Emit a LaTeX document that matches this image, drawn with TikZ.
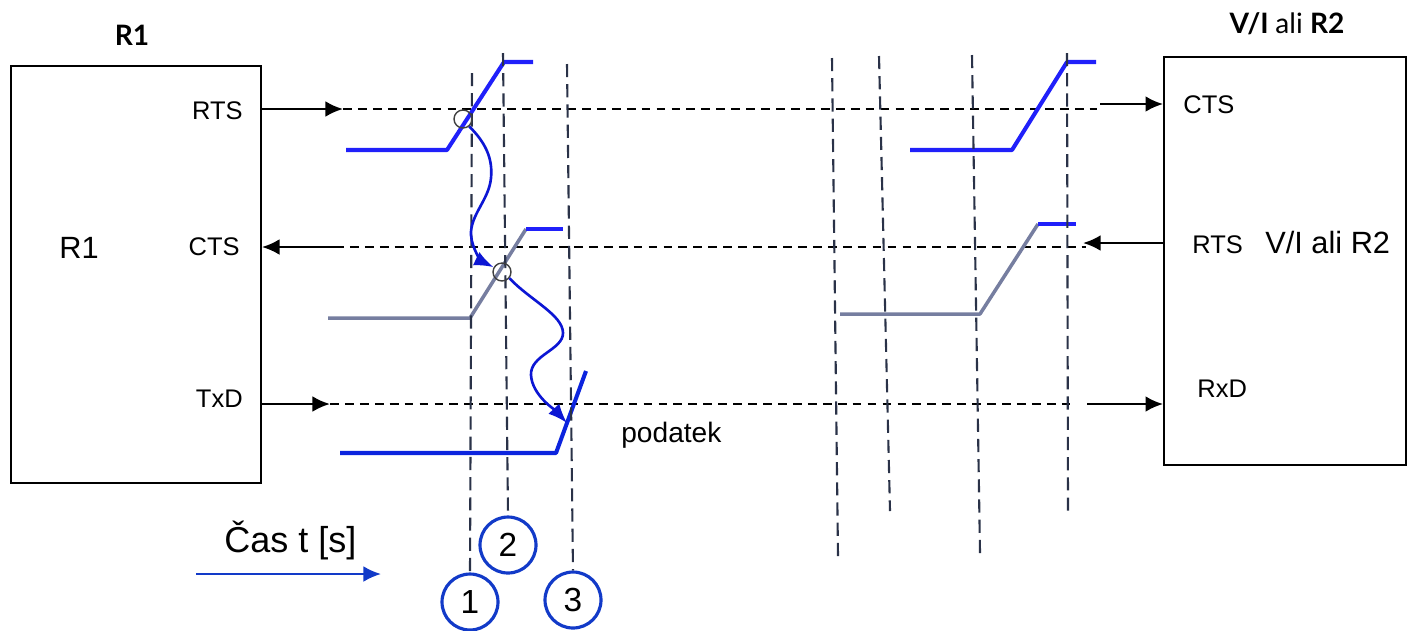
\documentclass[tikz,border=0pt]{standalone}
\usepackage{fontspec}
\setmainfont{Liberation Sans}
\newfontfamily\headfont{Lato}
\usetikzlibrary{arrows.meta}
\definecolor{wavecol}{RGB}{32,32,250}
\definecolor{txcol}{RGB}{12,36,222}
\definecolor{ctscol}{RGB}{118,126,160}
\definecolor{flowcol}{RGB}{12,22,212}
\definecolor{gridcol}{RGB}{42,50,72}
\definecolor{stampcol}{RGB}{18,58,200}
\tikzset{>={Latex[length=10pt,width=9pt]}}
\tikzset{
  unitbox/.style = {draw, line width=1.1pt, inner sep=0pt},
  portlbl/.style = {inner sep=0pt, font=\fontsize{14.5}{16}\selectfont},
  biglbl/.style = {inner sep=0pt, font=\fontsize{17.5}{20}\selectfont},
  headlbl/.style = {inner sep=0pt, font=\headfont\fontsize{16}{18}\selectfont},
  hline/.style = {line width=1pt, dash pattern=on 5pt off 3.5pt},
  vline/.style = {draw=gridcol, line width=1.2pt, dash pattern=on 7.5pt off 4pt},
  link/.style = {->, line width=1.4pt},
  level/.style = {line width=2.3pt, line join=round},
  ringmark/.style = {circle, draw=black!75, line width=0.8pt, minimum size=0.36cm, inner sep=0pt},
  stamp/.style = {circle, draw=stampcol, line width=1.8pt, minimum size=1.12cm, inner sep=0pt, font=\fontsize{19}{22}\selectfont},
  flowarrow/.style = {draw=flowcol, line width=1.5pt, -{Latex[length=11pt,width=8.5pt]}}
}

\begin{document}
\begin{tikzpicture}[x=0.02cm,y=-0.02cm]
  \useasboundingbox (0,0) rectangle (1408,630);
  \node (R1box) at (136,274.5) [unitbox, minimum width=5cm, minimum height=8.34cm] {};
  \node (R2box) at (1285,261) [unitbox, minimum width=4.84cm, minimum height=8.16cm] {};
  \node (r1head) at (132,45) [headlbl, anchor=base] {\bfseries R1};
  \node (r2head) at (1287,33) [headlbl, anchor=base] {\bfseries V/I \mdseries ali \bfseries R2};
  \node (r1name) at (79,258) [biglbl, anchor=base] {R1};
  \node (r2name) at (1265,253) [biglbl, anchor=base west] {V/I ali R2};
  \node (rtsL) at (243,119) [portlbl, anchor=base east] {RTS};
  \node (ctsL) at (240,255) [portlbl, anchor=base east] {CTS};
  \node (txdL) at (243,407) [portlbl, anchor=base east] {TxD};
  \node (ctsR) at (1183,113) [portlbl, anchor=base west] {CTS};
  \node (rtsR) at (1192,253) [portlbl, anchor=base west] {RTS};
  \node (rxdR) at (1197,397) [portlbl, anchor=base west] {RxD};
  \node (data) at (621,442) [inner sep=0pt, font=\fontsize{16}{18}\selectfont, anchor=base west] {podatek};

  \coordinate (rtsA) at (343,109);
  \coordinate (rtsB) at (1097,109);
  \coordinate (ctsA) at (335,247);
  \coordinate (ctsB) at (1086,247);
  \coordinate (txdA) at (330,404);
  \coordinate (txdB) at (1070,404);
  \coordinate (ctsIn) at (1100,104);
  \coordinate (rtsOut) at (1083,243);
  \coordinate (rxdIn) at (1087,404);
  \draw[hline] (rtsA) -- (rtsB);
  \draw[hline] (ctsA) -- (ctsB);
  \draw[hline] (txdA) -- (txdB);
  \draw[link] (R1box.east |- rtsA) -- (rtsA);
  \draw[link] (ctsA) -- (R1box.east |- ctsA);
  \draw[link] (R1box.east |- txdA) -- (txdA);
  \draw[link] (ctsIn) -- (R2box.west |- ctsIn);
  \draw[link] (R2box.west |- rtsOut) -- (rtsOut);
  \draw[link] (rxdIn) -- (R2box.west |- rxdIn);

  \draw[level, wavecol] (346,150) -- (447,150) -- (504,62) -- (533,62);
  \draw[level, ctscol, line width=2pt] (328,318) -- (470,318) -- (526,229);
  \draw[level, wavecol] (526,229) -- (563,229);
  \draw[level, txcol] (340,453) -- (556,453) -- (586,371);
  \draw[level, wavecol] (910,150) -- (1012,150) -- (1067,62) -- (1096,62);
  \draw[level, ctscol, line width=2pt] (840,314) -- (980,314) -- (1038,224);
  \draw[level, wavecol] (1038,224) -- (1076,224);

  \node (t1) at (470,602) [stamp] {1};
  \node (t2) at (508,545) [stamp] {2};
  \node (t3) at (573,600) [stamp] {3};
  \draw[vline] (472,73) -- (t1.north);
  \draw[vline] (503,53) -- (t2.north);
  \draw[vline] (567,64) -- (t3.north);
  \foreach \xa/\ya/\xb/\yb in {832/58/838/557, 879/56/890/511, 972/55/980/553, 1067/53/1068/516}
    \draw[vline] (\xa,\ya) -- (\xb,\yb);

  \node (o1) at (463,119) [ringmark] {};
  \node (o2) at (502,272) [ringmark] {};
  \coordinate (hit) at (567,423);
  \draw[flowarrow] (o1.-50) .. controls (485,142) and (493,158) .. (491,178)
    .. controls (489,200) and (470,215) .. (471,235)
    .. controls (472,250) and (483,262) .. (o2.150);
  \draw[flowarrow] (o2.-40) .. controls (530,300) and (563,315) .. (563,333)
    .. controls (563,350) and (530,355) .. (531,375)
    .. controls (532,395) and (555,410) .. (hit);

  \coordinate (tA) at (196,574);
  \coordinate (tB) at (381,574);
  \draw[->, draw=stampcol, fill=stampcol, line width=1.3pt] (tA) -- (tB);
  \node (tlbl) at (224,552) [inner sep=0pt, font=\fontsize{20.5}{24}\selectfont, anchor=base west] {Čas t [s]};
\end{tikzpicture}
\end{document}
